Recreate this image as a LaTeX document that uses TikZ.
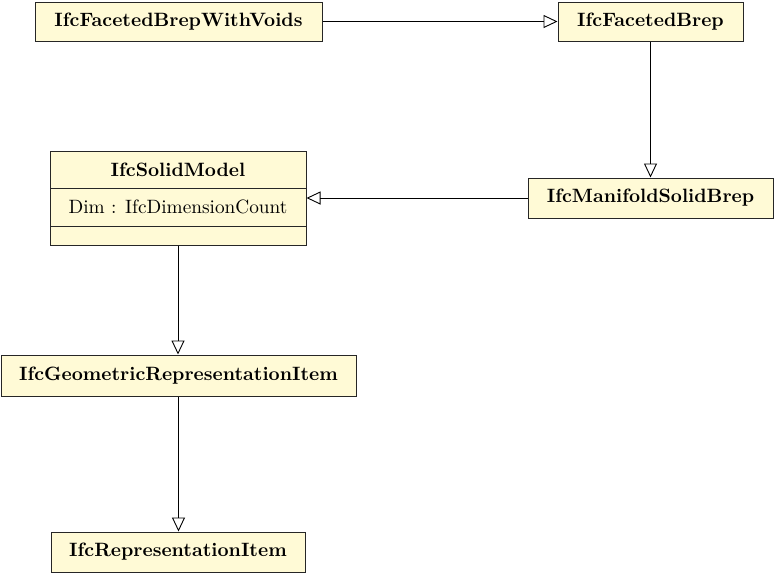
\documentclass[tikz,border=0pt]{standalone}
\usepackage{fontspec}
\usetikzlibrary{arrows.meta}
\definecolor{umlfill}{RGB}{255,250,214}
\newcommand{\txtsize}{\fontsize{9.65}{11.5}\selectfont}
\begin{document}
\begin{tikzpicture}[x=0.5pt,y=-0.5pt,
  cls/.style={draw=black!85, fill=umlfill, line width=0.5pt, inner sep=0pt, minimum height=19.5pt, font=\txtsize\bfseries},
  comp/.style={draw=black!85, fill=umlfill, line width=0.5pt, inner sep=0pt, minimum width=128pt},
  gen/.style={-{Triangle[open,length=7pt,width=6.5pt]}, line width=0.45pt}]
\useasboundingbox (0,0) rectangle (774,574);
\node[cls, minimum width=143.5pt] (fbv) at (178.5,21.5) {IfcFacetedBrepWithVoids};
\node[cls, minimum width=92.5pt] (fb) at (650.5,21.5) {IfcFacetedBrep};
\node[cls, minimum width=122.5pt, minimum height=20pt] (msb) at (650.5,198) {IfcManifoldSolidBrep};
\node[comp, minimum height=18.5pt, font=\txtsize\bfseries] (smt) at (178,169.5) {IfcSolidModel};
\node[comp, minimum height=19pt, font=\txtsize] (sma) at (178,207) {Dim : IfcDimensionCount};
\node[comp, minimum height=9.5pt] (sme) at (178,235.5) {};
\node[cls, minimum width=177.5pt, minimum height=20.5pt] (gri) at (178.5,375.5) {IfcGeometricRepresentationItem};
\node[cls, minimum width=127pt, minimum height=20pt] (ri) at (178,552) {IfcRepresentationItem};
\draw[gen] (fbv.east) -- (fb.west);
\draw[gen] (fb.south) -- (msb.north);
\draw[gen] (msb.west) -- (msb.west -| sma.east);
\draw[gen] (sme.south) -- (sme.south |- gri.north);
\draw[gen] (gri.south) -- (gri.south |- ri.north);
\end{tikzpicture}
\end{document}
